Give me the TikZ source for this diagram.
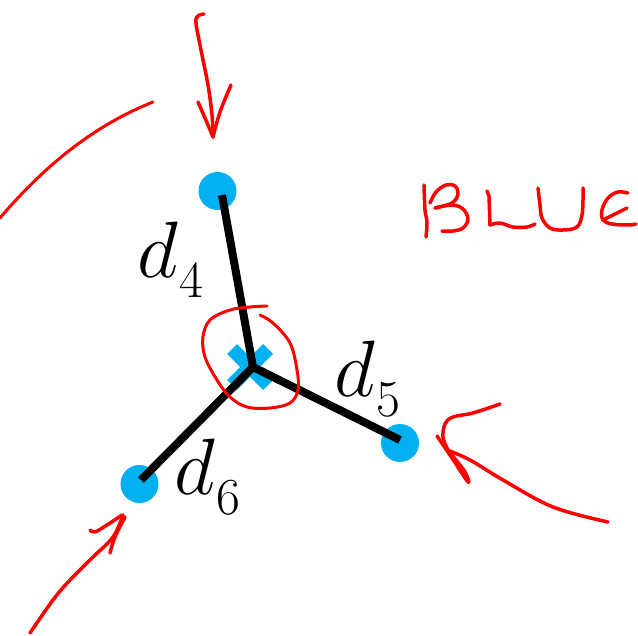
\RequirePackage{fix-cm}
\documentclass[tikz,border=0pt]{standalone}
\usetikzlibrary{calc}
\definecolor{inkblue}{RGB}{0,176,240}
\definecolor{inkred}{RGB}{255,0,0}
\begin{document}
\begin{tikzpicture}[x=1pt,y=-1pt,
  dotnode/.style={circle, fill=inkblue, minimum size=38pt, inner sep=0pt},
  xbar/.style={inkblue, line width=14pt},
  arm/.style={black, line width=8pt, line join=miter},
  ink/.style={inkred, line width=3.5pt, line cap=round, line join=round},
  thinink/.style={inkred, line width=3pt, line cap=round, line join=round},
  lbl/.style={inner sep=0pt, anchor=base west, font=\fontsize{80}{96}\selectfont}]
\useasboundingbox (0,0) rectangle (638,636);
% blue points
\node[dotnode] (p4) at (217.5,191) {};
\node[dotnode] (p5) at (400,443) {};
\node[dotnode] (p6) at (139.5,484) {};
% blue cross
\coordinate (xc) at (250,367);
\draw[xbar] ($(xc)+(-18,-18)$) -- ($(xc)+(18,18)$);
\draw[xbar] ($(xc)+(18,-18)$) -- ($(xc)+(-18,18)$);
% black arms
\coordinate (c) at (253,367);
\coordinate (e4) at (222,195);
\coordinate (e5) at (400,440);
\coordinate (e6) at (141,480);
\draw[arm] (e4) -- (c) -- (e5);
\draw[arm] (c) -- (e6);
% labels
\node[lbl] (l4) at (137,278) {$d$\kern2pt\raisebox{-20pt}{\fontsize{52}{52}\selectfont 4}};
\node[lbl] (l5) at (334,397) {$d$\kern2pt\raisebox{-20pt}{\fontsize{52}{52}\selectfont 5}};
\node[lbl] (l6) at (174,495) {$d$\kern2pt\raisebox{-20pt}{\fontsize{52}{52}\selectfont 6}};
% red circle around the cross
\draw[thinink] plot[smooth, tension=0.6] coordinates {(267,306) (250,307) (230,310) (210,320) (203,337) (205,357) (217,380) (230,397) (247,407) (270,408) (290,403) (298,390) (297,370) (290,343) (273,323) (260,315)};
% top arrow
\draw[ink] plot[smooth, tension=0.6] coordinates {(204,14) (198,16) (196,23) (201,50) (208,85) (212,115) (213,137)};
\draw[ink] plot[smooth, tension=0.6] coordinates {(198,102) (205,118) (213,137)};
\draw[ink] plot[smooth, tension=0.6] coordinates {(213,137) (220,112) (231,85)};
% top-left curve
\draw[thinink] (0,218) .. controls (45,165) and (95,125) .. (153,102);
% right arrow
\draw[ink] plot[smooth, tension=0.6] coordinates {(500,404) (473,413) (453,417) (445,424) (443,437) (447,448)};
\draw[ink] plot[smooth, tension=0.6] coordinates {(437,436) (452,458) (468,482) (465,472) (452,455) (442,442)};
\draw[ink] plot[smooth, tension=0.6] coordinates {(447,450) (470,460) (503,480) (553,507) (608,522)};
% bottom-left arrow
\draw[ink] plot[smooth, tension=0.6] coordinates {(30,633) (53,600) (70,580) (92,558) (113,537) (123,515)};
\draw[ink] plot[smooth, tension=0.6] coordinates {(90,530) (95,532) (107,525) (122,515)};
\draw[ink] plot[smooth, tension=0.6] coordinates {(125,517) (115,537) (110,553)};
% BLUE handwriting
\draw[ink] plot[smooth, tension=0.6] coordinates {(424,185) (425,210) (427,222) (426,237)};
\draw[ink] plot[smooth, tension=0.6] coordinates {(430,203) (436,192) (446,185) (455,186) (458,194) (452,203) (435,208)};
\draw[ink] plot[smooth, tension=0.6] coordinates {(435,208) (452,205) (463,209) (468,219) (463,228) (453,231) (442,231)};
\draw[ink] (487,191) -- (489,196) -- (490,225);
\draw[ink] plot[smooth, tension=0.6] coordinates {(490,225) (500,223) (513,227) (527,227) (535,224)};
\draw[ink] plot[smooth, tension=0.6] coordinates {(538,188) (540,205) (542,218) (550,228) (563,230) (577,227) (582,215) (583,200) (583,188)};
\draw[ink] plot[smooth, tension=0.6] coordinates {(628,193) (618,192) (608,198) (602,210) (603,220) (612,224) (628,225) (636,224)};
\draw[ink] (603,220) -- (627,208);
\end{tikzpicture}
\end{document}
